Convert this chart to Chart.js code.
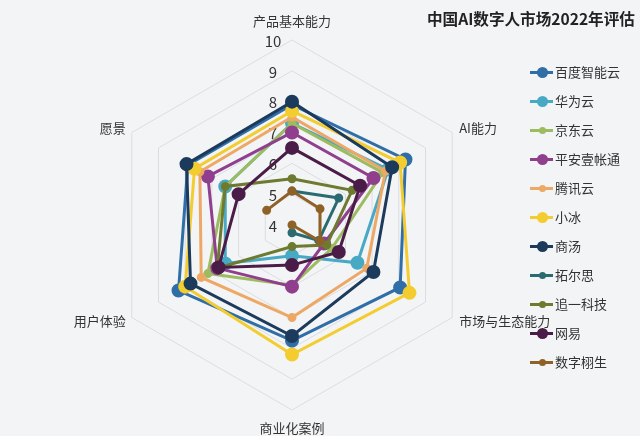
<!DOCTYPE html>
<html>
<head>
<meta charset="utf-8">
<script src="https://cdn.jsdelivr.net/npm/chart.js@4.4.1/dist/chart.umd.min.js"></script>
<style>
  html, body { margin: 0; padding: 0; background: #f3f4f6; }
  #wrap { position: relative; width: 640px; height: 436px; overflow: hidden; font-family: "Noto Sans CJK SC", sans-serif; color: #333; }
  #title { position: absolute; left: 427px; top: 7px; font-size: 15.6px; font-weight: bold; color: #222; white-space: nowrap; }
  #legend { position: absolute; left: 530px; top: 0; }
  .item { position: absolute; left: 0; height: 20px; white-space: nowrap; font-size: 13px; line-height: 20px; }
  .item .ln { position: absolute; left: 0; top: 9px; width: 23px; height: 3px; }
  .item .dot { position: absolute; border-radius: 50%; }
  .item .tx { position: absolute; left: 25px; top: 0; }
</style>
</head>
<body>
<div id="wrap">
  <canvas id="radar" width="640" height="436"></canvas>
  <div id="title">中国AI数字人市场2022年评估</div>
  <div id="legend"></div>
</div>
<script>
// axes and ticks
const axes = ["产品基本能力", "AI能力", "市场与生态能力", "商业化案例", "用户体验", "愿景"];
const tickMin = 4;
const tickMax = 10;

// scores per vendor, same order as axes
const baidu    = [7.9, 8.25, 8.05, 7.75, 8.25, 7.9];
const huawei   = [7.3, 7.6, 6.45, 5.0, 6.5, 6.5];
const jd       = [7.3, 7.4, 5.5, 5.95, 7.15, 6.5];
const pingan   = [7.0, 7.05, 5.2, 6.0, 6.8, 7.15];
const tencent  = [7.5, 7.5, 6.8, 7.0, 7.4, 7.45];
const xiaoice  = [7.7, 8.05, 8.4, 8.2, 8.0, 7.65];
const sensetime= [8.0, 7.75, 7.05, 7.6, 7.8, 7.95];
const trs      = [5.1, 5.75, 5.0, 4.25, null, null];
const zhuiyi   = [5.5, 6.25, 5.3, 4.7, 6.8, 6.5];
const netease  = [6.5, 6.55, 5.75, 5.3, 6.75, 6.0];
const xusheng  = [5.1, 5.05, 5.05, 4.0, null, 4.95];

const series = [
    { name: "百度智能云", data: baidu,     color: "#2f6ea6", big: true },
    { name: "华为云",     data: huawei,    color: "#48a9c5", big: true },
    { name: "京东云",     data: jd,        color: "#9dbb5f", big: false },
    { name: "平安壹帐通", data: pingan,    color: "#8f3f8d", big: true },
    { name: "腾讯云",     data: tencent,   color: "#eda866", big: false },
    { name: "小冰",       data: xiaoice,   color: "#f3cd2f", big: true },
    { name: "商汤",       data: sensetime, color: "#1b3a5c", big: true },
    { name: "拓尔思",     data: trs,       color: "#2a6b72", big: false },
    { name: "追一科技",   data: zhuiyi,    color: "#6d7a2f", big: false },
    { name: "网易",       data: netease,   color: "#4a1c47", big: true },
    { name: "数字栩生",   data: xusheng,   color: "#8f6126", big: false }
];

// ==========================
// axis names + tick numbers
// ==========================
const axisText = {
    id: "axisText",
    beforeDatasetsDraw(chart) {
        const r = chart.scales.r;
        const ctx = chart.ctx;
        ctx.save();
        ctx.fillStyle = "#333";
        ctx.textBaseline = "middle";
        ctx.font = '13px "Noto Sans CJK SC"';
        axes.forEach((name, i) => {
            const p = r.getPointPosition(i, r.drawingArea);
            let x = p.x, y = p.y, align = "center";
            if (Math.abs(p.x - r.xCenter) < 1) {
                y += p.y < r.yCenter ? -19 : 18;
            } else if (p.x > r.xCenter) {
                x += 7; align = "left";
                y += p.y < r.yCenter ? -4 : 4;
            } else {
                x -= 6; align = "right";
                y += p.y < r.yCenter ? -4 : 4;
            }
            ctx.textAlign = align;
            ctx.fillText(name, x, y);
        });
        ctx.font = '15px "Noto Sans CJK SC"';
        ctx.textAlign = "center";
        r.ticks.forEach(t => {
            const y = r.yCenter - r.getDistanceFromCenterForValue(t.value);
            ctx.fillText(t.label, r.xCenter - 19, y + 1);
        });
        ctx.restore();
    }
};

new Chart(document.getElementById("radar"), {
    type: "radar",
    data: {
        labels: axes,
        datasets: series.map((s, i) => ({
            label: s.name,
            data: s.data,
            borderColor: s.color,
            backgroundColor: s.color,
            pointBackgroundColor: s.color,
            pointBorderColor: s.color,
            borderWidth: 3,
            pointRadius: s.big ? 5.5 : 3,
            fill: false,
            spanGaps: false,
            order: -i
        }))
    },
    options: {
        responsive: false,
        animation: false,
        layout: {
            padding: { left: 107, right: 163, top: 40, bottom: 26 }
        },
        plugins: {
            legend: { display: false },
            title: { display: false },
            tooltip: { enabled: false }
        },
        scales: {
            r: {
                min: tickMin,
                max: tickMax,
                ticks: { display: false, stepSize: 1 },
                pointLabels: { display: false },
                angleLines: { display: false },
                grid: { color: "#dcdde1", lineWidth: 1 }
            }
        }
    },
    plugins: [axisText]
});

// ==========================
// Legend
// ==========================
const legend = document.getElementById("legend");
series.forEach((s, i) => {
    const cy = 71.5 + i * 29;
    const d = s.big ? 11 : 7;
    const item = document.createElement("div");
    item.className = "item";
    item.style.top = (cy - 10) + "px";
    item.innerHTML =
        '<span class="ln" style="background:' + s.color + '"></span>' +
        '<span class="dot" style="background:' + s.color + ';width:' + d + 'px;height:' + d + 'px;left:' + (12 - d / 2) + 'px;top:' + (10.5 - d / 2) + 'px"></span>' +
        '<span class="tx">' + s.name + '</span>';
    legend.appendChild(item);
});
</script>
</body>
</html>
